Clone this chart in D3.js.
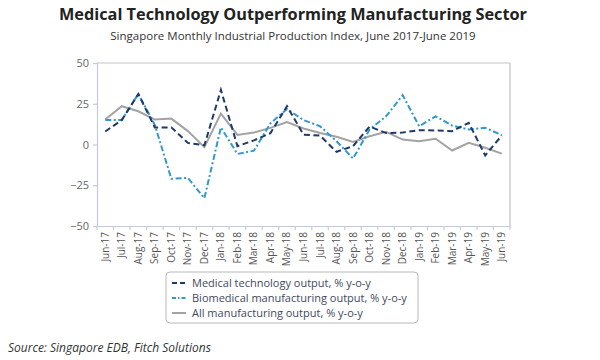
<!DOCTYPE html>
<html><head><meta charset="utf-8">
<script src="https://cdn.jsdelivr.net/npm/d3@7"></script>
<style>body{margin:0;background:#fff;} svg{display:block;font-family:"Open Sans",sans-serif;}</style>
</head><body><svg id="c" width="600" height="360"></svg>
<script>
const months = ["Jun-17","Jul-17","Aug-17","Sep-17","Oct-17","Nov-17","Dec-17","Jan-18","Feb-18","Mar-18","Apr-18","May-18","Jun-18","Jul-18","Aug-18","Sep-18","Oct-18","Nov-18","Dec-18","Jan-19","Feb-19","Mar-19","Apr-19","May-19","Jun-19"];
const medtech = [8, 15, 31, 10.5, 10.5, 1, -0.5, 33.5, -1, 2.5, 7, 23.5, 6, 5.5, -4.5, -1, 11, 7, 7.3, 8.8, 8.6, 8.2, 13.3, -6.7, 5.5];
const biomed = [15, 15, 31, 12, -21, -20.5, -33, 10.5, -5.8, -3.8, 13, 21.8, 15, 11.2, 2, -8.6, 9.2, 17.3, 30.3, 11.2, 17.3, 11.6, 9.2, 10.2, 5.8];
const allmfg = [15.3, 23.5, 20.4, 15.3, 15.9, 8.2, -1.6, 19, 5.9, 7.3, 10.2, 13.7, 9.8, 7.1, 4.7, 1.6, 5.1, 7.8, 3, 2, 3.5, -3.7, 1, -2, -5.6];
const yTicks = [50, 25, 0, -25, -50];
const seriesNames = ["Medical technology output, % y-o-y","Biomedical manufacturing output, % y-o-y","All manufacturing output, % y-o-y"];

const svg = d3.select("#c");
const L = 97, R = 510, T = 63, B = 226;
const x = d3.scaleBand().domain(months).range([L, R]);
const y = d3.scaleLinear().domain([-50, 50]).range([B, T]);

// title
svg.append("text").attr("x", 293).attr("y", 20).attr("text-anchor","middle")
  .style("font-weight","bold").style("font-size","16.3px").attr("fill","#222")
  .text("Medical Technology Outperforming Manufacturing Sector");
svg.append("text").attr("x", 293).attr("y", 40).attr("text-anchor","middle")
  .style("font-size","11.5px").attr("fill","#333")
  .text("Singapore Monthly Industrial Production Index, June 2017-June 2019");

// frame
svg.append("line").attr("x1",L).attr("x2",R).attr("y1",T).attr("y2",T).attr("stroke","#d8d8de").attr("stroke-width",1.5);
svg.append("line").attr("x1",R).attr("x2",R).attr("y1",T).attr("y2",B).attr("stroke","#d8d8de").attr("stroke-width",2);

// y axis
const ya = svg.append("g").attr("transform",`translate(${L},0)`)
  .call(d3.axisLeft(y).tickValues(yTicks).tickSize(4).tickPadding(4));
ya.selectAll("path,line").attr("stroke","#c5cbd8").attr("stroke-width",1.2);
ya.selectAll("text").attr("fill","#666").style("font-size","11px").style("font-family","'Open Sans',sans-serif");

// x axis
const xa = svg.append("g").attr("transform",`translate(0,${B})`)
  .call(d3.axisBottom(x).tickSize(0).tickSizeOuter(0));
xa.select("path").attr("stroke","#c5cbd8").attr("stroke-width",1.2);
xa.selectAll("text").attr("fill","#555").style("font-size","10px").style("font-family","'Open Sans',sans-serif")
  .attr("transform","rotate(-90)").attr("text-anchor","end").attr("x",-6).attr("y",0).attr("dy","0.35em");
// band boundary ticks
svg.append("g").selectAll("line").data(months.concat(["_end"])).join("line")
  .attr("x1",(d,i)=>L + i*x.step()).attr("x2",(d,i)=>L + i*x.step())
  .attr("y1",B).attr("y2",B+4).attr("stroke","#c5cbd8").attr("stroke-width",1.2);

const line = d3.line().x((d,i)=>x(months[i]) + x.bandwidth()/2).y(d=>y(d));
const styles = [
  {data: allmfg, color:"#a3a3a3", dash:null},
  {data: biomed, color:"#3199cc", dash:"6,2.5,2,2.5"},
  {data: medtech, color:"#1f3a68", dash:"6,3.5"}
];
styles.forEach(s=>{
  svg.append("path").attr("d", line(s.data)).attr("fill","none")
    .attr("stroke", s.color).attr("stroke-width",2)
    .attr("stroke-dasharray", s.dash).attr("stroke-linejoin","miter");
});

// legend
const lg = svg.append("g");
lg.append("rect").attr("x",166).attr("y",272).attr("width",252).attr("height",51).attr("rx",4)
  .attr("fill","#fff").attr("stroke","#b8b8b8").attr("stroke-width",1);
const legStyles = [
  {color:"#1f3a68", dash:"5,3"},
  {color:"#3199cc", dash:"4,2,1.5,2"},
  {color:"#a3a3a3", dash:null}
];
seriesNames.forEach((n,i)=>{
  const yy = 283 + i*15;
  lg.append("line").attr("x1",172).attr("x2",186).attr("y1",yy).attr("y2",yy)
    .attr("stroke",legStyles[i].color).attr("stroke-width",2).attr("stroke-dasharray",legStyles[i].dash);
  lg.append("text").attr("x",192).attr("y",yy).attr("dy","0.35em")
    .style("font-size","11px").attr("fill","#3f4a5e").text(n);
});

// source
svg.append("text").attr("x",8).attr("y",352).style("font-style","italic")
  .style("font-size","12px").attr("fill","#333").text("Source: Singapore EDB, Fitch Solutions");
</script></body></html>
